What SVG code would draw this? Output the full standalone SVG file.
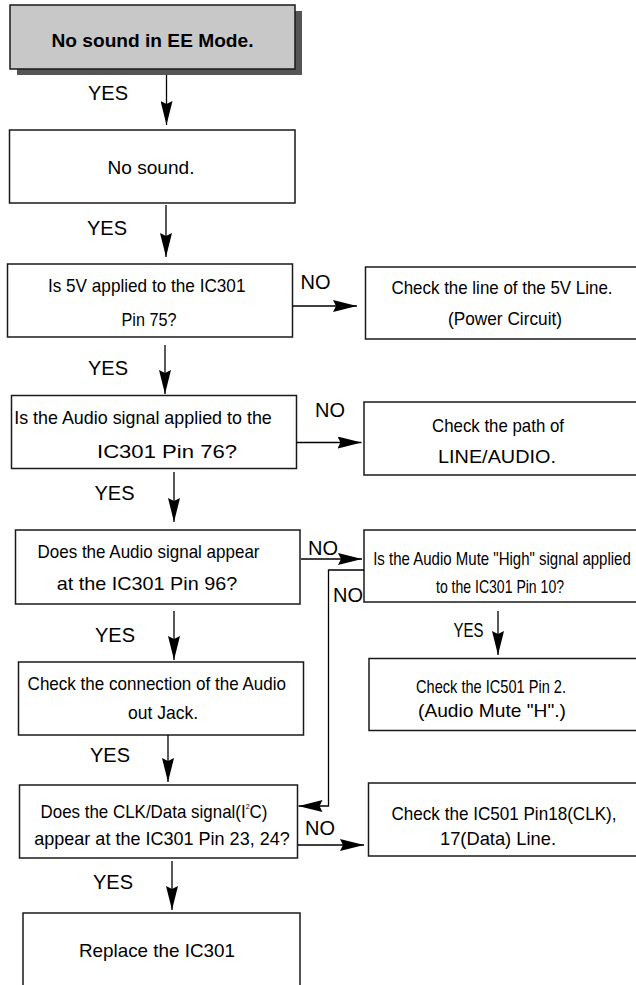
<svg xmlns="http://www.w3.org/2000/svg" width="636" height="985" viewBox="0 0 636 985">
<style>
.box{fill:#fff;stroke:#1a1a1a;stroke-width:1.5}
.t{font-family:"Liberation Sans Narrow","Liberation Sans",Arial,sans-serif;font-size:19px;fill:#000;text-anchor:middle}
.lb{font-family:"Liberation Sans",Arial,sans-serif;font-size:20px;fill:#000}
.ln{fill:none;stroke:#000;stroke-width:1.3}
</style>
<defs>
<marker id="av" viewBox="0 0 24 12" markerWidth="24" markerHeight="12" refX="24" refY="6" orient="auto" markerUnits="userSpaceOnUse"><path d="M0,0 L24,6 L0,12 L3,6 Z" fill="#000"/></marker>
<marker id="ah" viewBox="0 0 24 12" markerWidth="24" markerHeight="12" refX="24" refY="6" orient="auto" markerUnits="userSpaceOnUse"><path d="M0,0 L24,6 L0,12 L3,6 Z" fill="#000"/></marker>
</defs>
<rect width="636" height="985" fill="#fff"/>

<g id="start">
<rect x="17" y="11" width="285" height="64" fill="#555"/>
<rect x="10" y="5" width="285" height="64" fill="#c8c8c8" stroke="#1a1a1a" stroke-width="1.5"/>
<text class="t" x="152.5" y="47" font-weight="bold" font-size="22" textLength="202" lengthAdjust="spacingAndGlyphs">No sound in EE Mode.</text>
</g>

<g id="nosound">
<rect class="box" x="9.5" y="130" width="285.5" height="73"/>
<text class="t" x="151" y="174" font-size="23" textLength="87" lengthAdjust="spacingAndGlyphs">No sound.</text>
</g>

<g id="q5v">
<rect class="box" x="7.5" y="264" width="285" height="73"/>
<text class="t" x="146.7" y="292" textLength="197.5" lengthAdjust="spacingAndGlyphs">Is 5V applied to the IC301</text>
<text class="t" x="149" y="326" textLength="55" lengthAdjust="spacingAndGlyphs">Pin 75?</text>
</g>

<g id="check5v">
<rect class="box" x="365.5" y="267" width="280" height="72"/>
<text class="t" x="502" y="294" font-size="20" textLength="221" lengthAdjust="spacingAndGlyphs">Check the line of the 5V Line.</text>
<text class="t" x="505" y="325" font-size="20" textLength="114" lengthAdjust="spacingAndGlyphs">(Power Circuit)</text>
</g>

<g id="qaudio">
<rect class="box" x="11.5" y="395.5" width="285" height="73"/>
<text class="t" x="143" y="424" textLength="257.6" lengthAdjust="spacingAndGlyphs">Is the Audio signal applied to the</text>
<text class="t" x="167" y="458" textLength="140" lengthAdjust="spacingAndGlyphs">IC301 Pin 76?</text>
</g>

<g id="checkpath">
<rect class="box" x="364" y="402" width="280" height="73"/>
<text class="t" x="498" y="432" font-size="20" textLength="132" lengthAdjust="spacingAndGlyphs">Check the path of</text>
<text class="t" x="497" y="463" font-size="20" textLength="118" lengthAdjust="spacingAndGlyphs">LINE/AUDIO.</text>
</g>

<g id="q96">
<rect class="box" x="15.5" y="530" width="284.5" height="74"/>
<text class="t" x="148.5" y="558" textLength="222" lengthAdjust="spacingAndGlyphs">Does the Audio signal appear</text>
<text class="t" x="147" y="590" textLength="180.5" lengthAdjust="spacingAndGlyphs">at the IC301 Pin 96?</text>
</g>

<g id="qmute">
<rect class="box" x="364" y="530" width="280" height="72"/>
<text class="t" x="502" y="565" font-size="17" textLength="257.6" lengthAdjust="spacingAndGlyphs">Is the Audio Mute "High" signal applied</text>
<text class="t" x="500" y="593" font-size="17" textLength="128" lengthAdjust="spacingAndGlyphs">to the IC301 Pin 10?</text>
</g>

<g id="checkjack">
<rect class="box" x="18.5" y="662" width="285" height="73"/>
<text class="t" x="156.8" y="690" textLength="258.4" lengthAdjust="spacingAndGlyphs">Check the connection of the Audio</text>
<text class="t" x="163" y="719" textLength="70" lengthAdjust="spacingAndGlyphs">out Jack.</text>
</g>

<g id="checkpin2">
<rect class="box" x="369" y="658.5" width="275" height="72"/>
<text class="t" x="491" y="693" font-size="20" textLength="150" lengthAdjust="spacingAndGlyphs">Check the IC501 Pin 2.</text>
<text class="t" x="492" y="717" font-size="20" textLength="148" lengthAdjust="spacingAndGlyphs">(Audio Mute "H".)</text>
</g>

<g id="qclk">
<rect class="box" x="19.5" y="785" width="278" height="73"/>
<text class="t" x="154" y="818" textLength="227" lengthAdjust="spacingAndGlyphs">Does the CLK/Data signal(I<tspan font-size="8" dy="-9">2</tspan><tspan dy="9">C)</tspan></text>
<text class="t" x="162" y="845" textLength="255.5" lengthAdjust="spacingAndGlyphs">appear at the IC301 Pin 23, 24?</text>
</g>

<g id="checkclk">
<rect class="box" x="368.5" y="783" width="275" height="73"/>
<text class="t" x="504" y="820" font-size="20" textLength="225" lengthAdjust="spacingAndGlyphs">Check the IC501 Pin18(CLK),</text>
<text class="t" x="498" y="845" font-size="20" textLength="116" lengthAdjust="spacingAndGlyphs">17(Data) Line.</text>
</g>

<g id="replace">
<rect class="box" x="23" y="913" width="277" height="90"/>
<text class="t" x="157" y="957" font-size="22" textLength="156" lengthAdjust="spacingAndGlyphs">Replace the IC301</text>
</g>

<g id="connectors">
<path class="ln" d="M166.5,75 V125" marker-end="url(#av)"/>
<path class="ln" d="M166,205 V257" marker-end="url(#av)"/>
<path class="ln" d="M292.5,306 H357" marker-end="url(#ah)"/>
<path class="ln" d="M165,345 V394" marker-end="url(#av)"/>
<path class="ln" d="M296.5,442.5 H361.5" marker-end="url(#ah)"/>
<path class="ln" d="M174,472 V522" marker-end="url(#av)"/>
<path class="ln" d="M301,559 H362" marker-end="url(#ah)"/>
<path class="ln" d="M364,570 H328.5 V806 H298.5" marker-end="url(#ah)"/>
<path class="ln" d="M498,611 V655" marker-end="url(#av)"/>
<path class="ln" d="M174,611 V660" marker-end="url(#av)"/>
<path class="ln" d="M168,735 V782" marker-end="url(#av)"/>
<path class="ln" d="M298,845 H364" marker-end="url(#ah)"/>
<path class="ln" d="M172,861 V910" marker-end="url(#av)"/>
</g>

<g id="labels">
<text class="lb" x="88" y="100">YES</text>
<text class="lb" x="87" y="235">YES</text>
<text class="lb" x="300.5" y="289">NO</text>
<text class="lb" x="88" y="375">YES</text>
<text class="lb" x="315" y="417">NO</text>
<text class="lb" x="94.5" y="500">YES</text>
<text class="lb" x="308" y="555">NO</text>
<text class="lb" x="333" y="602">NO</text>
<text class="lb" x="453.5" y="637" font-size="19" textLength="30" lengthAdjust="spacingAndGlyphs">YES</text>
<text class="lb" x="95" y="642">YES</text>
<text class="lb" x="90" y="762">YES</text>
<text class="lb" x="305" y="835">NO</text>
<text class="lb" x="93" y="889">YES</text>
</g>
</svg>
